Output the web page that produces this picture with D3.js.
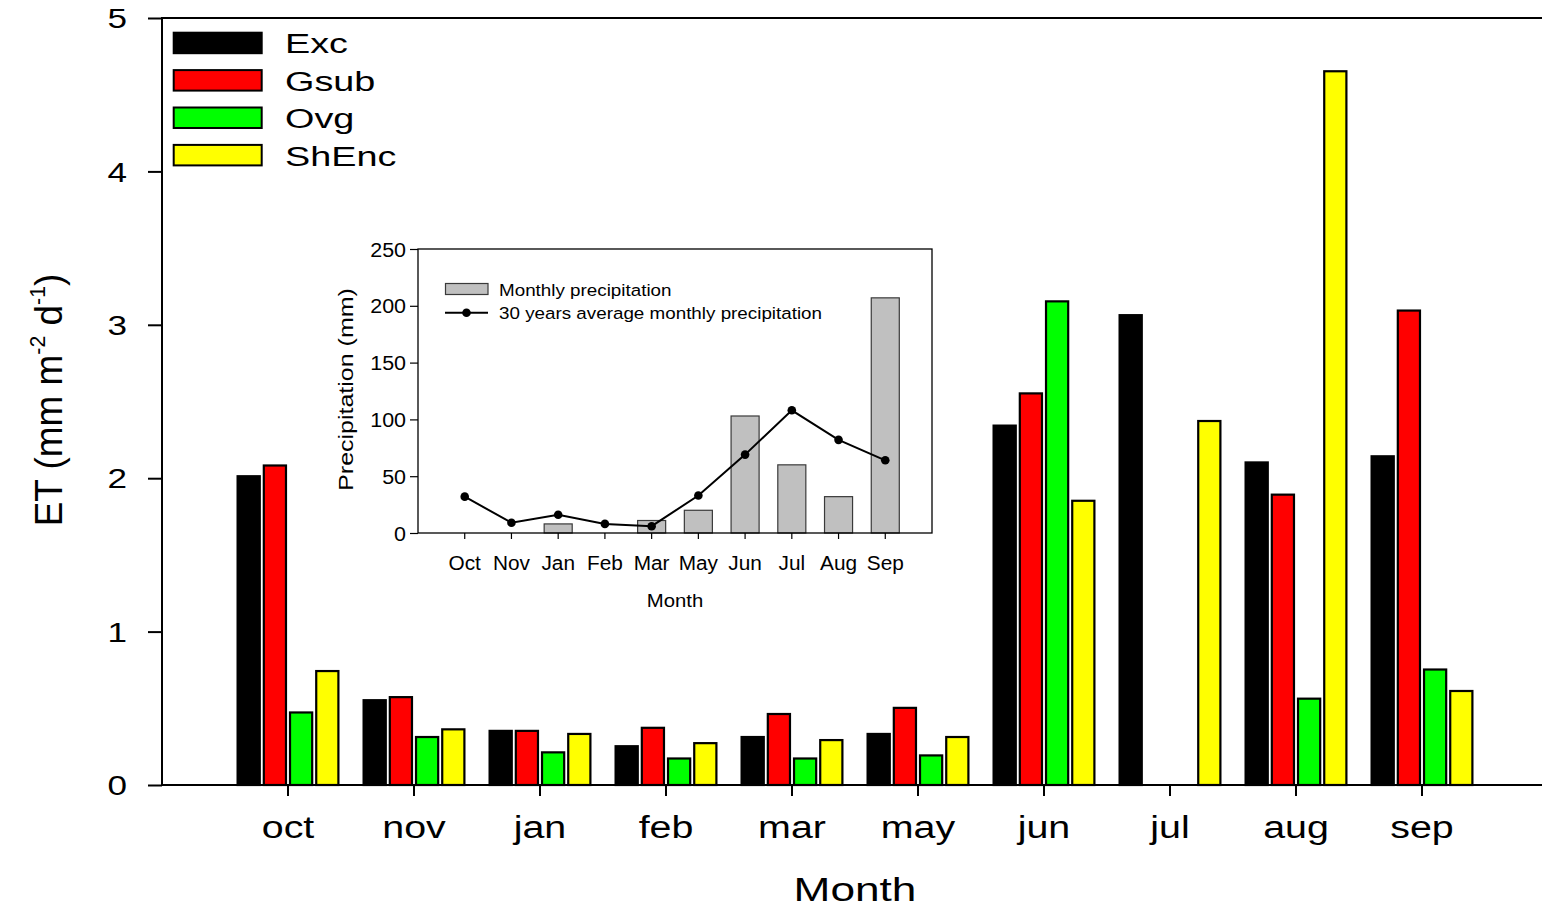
<!DOCTYPE html>
<html>
<head>
<meta charset="utf-8">
<script src="https://cdn.jsdelivr.net/npm/d3@7"></script>
<style>
  html, body { margin: 0; padding: 0; background: #fff; }
  svg { display: block; }
  text { font-family: "Liberation Sans", Arial, Helvetica, sans-serif; fill: #000; }
</style>
</head>
<body>
<svg id="chart" width="1542" height="906"></svg>
<script>
// ---- Main chart data: evapotranspiration per month and site ----
const months = ["oct", "nov", "jan", "feb", "mar", "may", "jun", "jul", "aug", "sep"];
const seriesNames = ["Exc", "Gsub", "Ovg", "ShEnc"];
const seriesColors = ["#000000", "#ff0000", "#00ff00", "#ffff00"];
const excET   = [2.02, 0.56, 0.36, 0.26, 0.32, 0.34, 2.35, 3.07, 2.11, 2.15];
const gsubET  = [2.09, 0.58, 0.36, 0.38, 0.47, 0.51, 2.56, null, 1.90, 3.10];
const ovgET   = [0.48, 0.32, 0.22, 0.18, 0.18, 0.20, 3.16, null, 0.57, 0.76];
const shencET = [0.75, 0.37, 0.34, 0.28, 0.30, 0.32, 1.86, 2.38, 4.66, 0.62];
const etTicks = [0, 1, 2, 3, 4, 5];

// ---- Inset data: precipitation ----
const insetMonths = ["Oct", "Nov", "Jan", "Feb", "Mar", "May", "Jun", "Jul", "Aug", "Sep"];
const monthlyPrecip = [0, 0, 8, 0, 11, 20, 103, 60, 32, 207];
const avgPrecip30y  = [32, 9, 16, 8, 6, 33, 69, 108, 82, 64];
const precipTicks = [0, 50, 100, 150, 200, 250];

const svg = d3.select("#chart");
const seriesValues = [excET, gsubET, ovgET, shencET];

// ================= Main chart =================
const plot = { left: 162, right: 1548, top: 18, bottom: 785 };

const x = d3.scaleBand().domain(months).range([plot.left, plot.right])
  .paddingInner(0).paddingOuter(0.5);
const y = d3.scaleLinear().domain([0, 5]).range([plot.bottom, plot.top]);
const xInner = d3.scaleBand().domain(seriesNames).range([-51.5, 51.5]).paddingInner(0.07);

const mainG = svg.append("g");

// bars
const barStroke = 2.2;
const barData = [];
months.forEach((m, i) => {
  seriesNames.forEach((s, k) => {
    const v = seriesValues[k][i];
    if (v != null) barData.push({ month: m, series: s, color: seriesColors[k], value: v });
  });
});
mainG.append("g").selectAll("rect").data(barData).join("rect")
  .attr("x", d => x(d.month) + x.bandwidth() / 2 + xInner(d.series) + barStroke / 2)
  .attr("width", xInner.bandwidth() - barStroke)
  .attr("y", d => y(d.value) + barStroke / 2)
  .attr("height", d => y(0) - y(d.value) - barStroke / 2)
  .attr("fill", d => d.color)
  .attr("stroke", "#000")
  .attr("stroke-width", barStroke);

// y axis
const yAxis = mainG.append("g").attr("transform", `translate(${plot.left},0)`)
  .call(d3.axisLeft(y).tickValues(etTicks).tickFormat(d3.format("d")).tickSize(14).tickPadding(21));
yAxis.select(".domain").remove();
yAxis.selectAll(".tick line").attr("stroke", "#000").attr("stroke-width", 2);
yAxis.selectAll(".tick text")
  .attr("font-size", 27).attr("x", -35 / 1.3).attr("dy", "0.36em")
  .attr("transform", "scale(1.3,1)");

// x axis
const xAxis = mainG.append("g").attr("transform", `translate(0,${plot.bottom})`)
  .call(d3.axisBottom(x).tickSize(11));
xAxis.select(".domain").remove();
xAxis.selectAll(".tick line").attr("stroke", "#000").attr("stroke-width", 2);
xAxis.selectAll(".tick text")
  .attr("font-size", 31).attr("y", 52.7).attr("dy", 0)
  .attr("transform", "scale(1.27,1)");

// frame lines (left, top, bottom, right)
const frame = mainG.append("g").attr("stroke", "#000").attr("stroke-width", 2).attr("fill", "none");
frame.append("line").attr("x1", plot.left).attr("x2", plot.left).attr("y1", plot.top - 1).attr("y2", plot.bottom + 1);
frame.append("line").attr("x1", plot.left).attr("x2", plot.right).attr("y1", plot.top).attr("y2", plot.top);
frame.append("line").attr("x1", plot.left).attr("x2", plot.right).attr("y1", plot.bottom).attr("y2", plot.bottom);
frame.append("line").attr("x1", plot.right).attr("x2", plot.right).attr("y1", plot.top).attr("y2", plot.bottom);

// axis titles
mainG.append("text")
  .attr("transform", `translate(${(plot.left + plot.right) / 2},900.5) scale(1.3,1)`)
  .attr("text-anchor", "middle").attr("font-size", 34).text("Month");

const yTitle = mainG.append("text")
  .attr("transform", "translate(62,400) rotate(-90) scale(1.12,1.15)")
  .attr("text-anchor", "middle").attr("font-size", 33);
yTitle.append("tspan").text("ET (mm m");
yTitle.append("tspan").attr("font-size", 19).attr("dy", -15).text("-2");
yTitle.append("tspan").attr("dy", 15).text(" d");
yTitle.append("tspan").attr("font-size", 19).attr("dy", -15).text("-1");
yTitle.append("tspan").attr("dy", 15).text(")");

// legend
const legend = mainG.append("g");
seriesNames.forEach((s, k) => {
  const top = 31.7 + k * 37.4;
  legend.append("rect")
    .attr("x", 173.7).attr("y", top + 1).attr("width", 88).attr("height", 20.5)
    .attr("fill", seriesColors[k]).attr("stroke", "#000").attr("stroke-width", 2);
  legend.append("text")
    .attr("transform", `translate(285,${top + 21.6}) scale(1.35,1)`)
    .attr("font-size", 28).text(s);
});

// ================= Inset chart =================
const inset = { left: 418, right: 932, top: 249, bottom: 533 };
const ix = d3.scaleBand().domain(insetMonths).range([inset.left, inset.right])
  .paddingInner(0).paddingOuter(0.5);
const iy = d3.scaleLinear().domain([0, 250]).range([inset.bottom, inset.top]);
const barW = ix.bandwidth() * 0.6;

const insetG = svg.append("g");
insetG.append("rect")
  .attr("x", inset.left).attr("y", inset.top)
  .attr("width", inset.right - inset.left).attr("height", inset.bottom - inset.top)
  .attr("fill", "#fff").attr("stroke", "none");

// precipitation bars
const precipData = insetMonths.map((m, i) => ({ month: m, value: monthlyPrecip[i], avg: avgPrecip30y[i] }));
insetG.append("g").selectAll("rect").data(precipData.filter(d => d.value > 0)).join("rect")
  .attr("x", d => ix(d.month) + ix.bandwidth() / 2 - barW / 2)
  .attr("width", barW)
  .attr("y", d => iy(d.value))
  .attr("height", d => iy(0) - iy(d.value))
  .attr("fill", "#c0c0c0").attr("stroke", "#3a3a3a").attr("stroke-width", 1.2);

// 30-year average line + dots
const line = d3.line().x(d => ix(d.month) + ix.bandwidth() / 2).y(d => iy(d.avg));
insetG.append("path").datum(precipData).attr("d", line)
  .attr("fill", "none").attr("stroke", "#000").attr("stroke-width", 2);
insetG.append("g").selectAll("circle").data(precipData).join("circle")
  .attr("cx", d => ix(d.month) + ix.bandwidth() / 2).attr("cy", d => iy(d.avg))
  .attr("r", 4.3).attr("fill", "#000");

// inset axes
const iyAxis = insetG.append("g").attr("transform", `translate(${inset.left},0)`)
  .call(d3.axisLeft(iy).tickValues(precipTicks).tickSize(8).tickPadding(4));
iyAxis.select(".domain").remove();
iyAxis.selectAll(".tick line").attr("stroke", "#000").attr("stroke-width", 1.2);
iyAxis.selectAll(".tick text").attr("font-size", 19.5).attr("x", -12 / 1.1).attr("dy", "0.36em")
  .attr("transform", "scale(1.1,1)");

const ixAxis = insetG.append("g").attr("transform", `translate(0,${inset.bottom})`)
  .call(d3.axisBottom(ix).tickSize(6));
ixAxis.select(".domain").remove();
ixAxis.selectAll(".tick line").attr("stroke", "#000").attr("stroke-width", 1.2);
ixAxis.selectAll(".tick text").attr("font-size", 20).attr("y", 37).attr("dy", 0)
  .attr("transform", "scale(1.04,1)");

insetG.append("rect")
  .attr("x", inset.left).attr("y", inset.top)
  .attr("width", inset.right - inset.left).attr("height", inset.bottom - inset.top)
  .attr("fill", "none").attr("stroke", "#000").attr("stroke-width", 1.3);

insetG.append("text")
  .attr("transform", `translate(675,606.7) scale(1.07,1)`)
  .attr("text-anchor", "middle").attr("font-size", 19).text("Month");
insetG.append("text")
  .attr("transform", "translate(352.5,389.5) rotate(-90) scale(1.25,1)")
  .attr("text-anchor", "middle").attr("font-size", 20).text("Precipitation (mm)");

// inset legend
const il = insetG.append("g");
il.append("rect").attr("x", 445.5).attr("y", 283.5).attr("width", 42.5).attr("height", 11)
  .attr("fill", "#c0c0c0").attr("stroke", "#3a3a3a").attr("stroke-width", 1.2);
il.append("text").attr("transform", "translate(499,296) scale(1.12,1)")
  .attr("font-size", 16.8).text("Monthly precipitation");
il.append("line").attr("x1", 445).attr("x2", 488).attr("y1", 312.7).attr("y2", 312.7)
  .attr("stroke", "#000").attr("stroke-width", 2);
il.append("circle").attr("cx", 466.5).attr("cy", 312.7).attr("r", 4.3).attr("fill", "#000");
il.append("text").attr("transform", "translate(499,319) scale(1.12,1)")
  .attr("font-size", 16.8).text("30 years average monthly precipitation");
</script>
</body>
</html>
